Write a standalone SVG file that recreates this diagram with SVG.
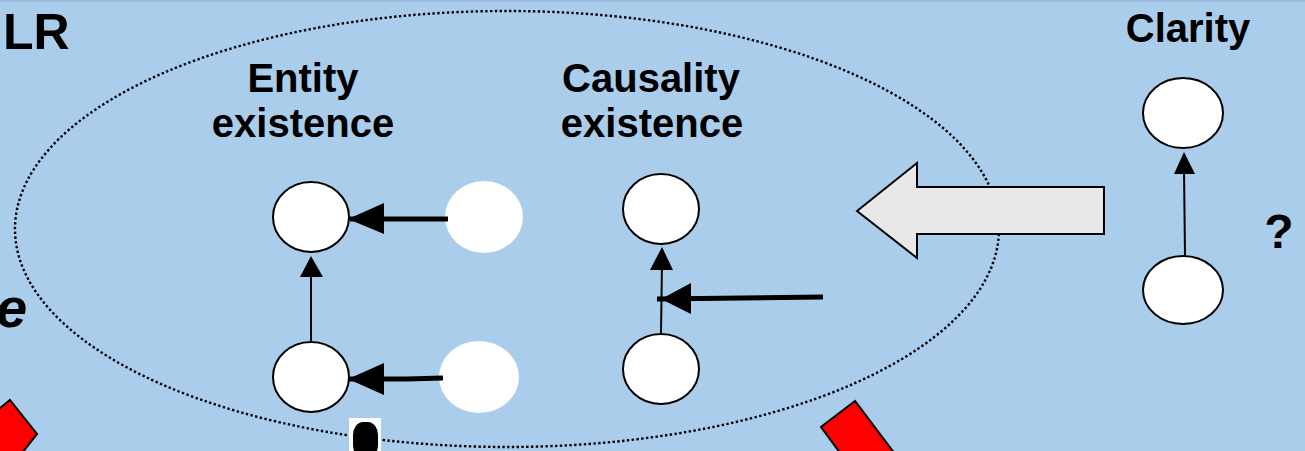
<svg xmlns="http://www.w3.org/2000/svg" width="1305" height="451" viewBox="0 0 1305 451">
<style>
.lbl{font-family:"Liberation Sans",Arial,sans-serif;font-weight:bold;fill:#000}
.node{fill:#fff;stroke:#000;stroke-width:2}
.ghost{fill:#fff;stroke:none}
.thin{stroke:#000;stroke-width:2;fill:none}
.thick{stroke:#000;stroke-width:5;fill:none}
.head{fill:#000;stroke:none}
.red{fill:#f00;stroke:#000;stroke-width:2}
</style>
<rect x="0" y="0" width="1305" height="451" fill="#abcdec"/>
<rect x="0" y="0" width="1305" height="2" fill="#9ebfdf"/>
<g id="frame">
<ellipse cx="507" cy="229" rx="492" ry="218" fill="none" stroke="#000" stroke-width="2.4" stroke-dasharray="2.4 2.4"/>
</g>
<g id="labels">
<text class="lbl" x="3" y="49" font-size="50">LR</text>
<text class="lbl" x="-4" y="327" font-size="56" font-style="italic">e</text>
<text class="lbl" x="303" y="92" font-size="40" text-anchor="middle">Entity</text>
<text class="lbl" x="303" y="137" font-size="40" text-anchor="middle">existence</text>
<text class="lbl" x="651" y="92" font-size="40" text-anchor="middle">Causality</text>
<text class="lbl" x="652" y="137" font-size="40" text-anchor="middle">existence</text>
<text class="lbl" x="1188" y="42" font-size="40" text-anchor="middle">Clarity</text>
<text class="lbl" x="1279" y="248" font-size="48" text-anchor="middle">?</text>
</g>
<g id="decor">
<polygon class="red" points="10,400 37,434 -10,494 -40,440"/>
<polygon class="red" points="855,401 821,427 860,480 895,454"/>
<rect x="349" y="418" width="32" height="40" fill="#fff"/>
<rect x="353" y="422" width="25" height="36" rx="10" ry="13" fill="#000"/>
</g>
<g id="entity-top">
<ellipse class="node" cx="311" cy="217" rx="38" ry="35"/>
</g>
<g id="entity-top-source">
<ellipse class="ghost" cx="484" cy="217" rx="39" ry="36"/>
</g>
<g id="entity-bottom">
<ellipse class="node" cx="311" cy="377" rx="38" ry="35"/>
</g>
<g id="entity-bottom-source">
<ellipse class="ghost" cx="479" cy="377" rx="40" ry="36"/>
</g>
<g id="causality-top">
<ellipse class="node" cx="661" cy="209" rx="38" ry="35"/>
</g>
<g id="causality-bottom">
<ellipse class="node" cx="661" cy="369" rx="38" ry="35"/>
</g>
<g id="clarity-top">
<ellipse class="node" cx="1183" cy="113" rx="40" ry="35"/>
</g>
<g id="clarity-bottom">
<ellipse class="node" cx="1183" cy="290" rx="40" ry="34"/>
</g>
<g id="block-arrow">
<polygon points="857,211 917,163 917,187 1104,187 1104,234 917,234 917,258" fill="#e8e8e8" stroke="#000" stroke-width="2"/>
</g>
<g id="connectors">
<line class="thick" x1="448" y1="219" x2="350" y2="219"/>
<polygon class="head" points="348,219 384,203 384,234"/>
<polyline class="thick" points="443,378 407,379 348,379"/>
<polygon class="head" points="348,379 384,363 384,395"/>
<line class="thin" x1="311" y1="342" x2="311" y2="270"/>
<polygon class="head" points="311,256 300,277 323,277"/>
<line class="thin" x1="661" y1="334" x2="662" y2="262"/>
<polygon class="head" points="662,247 650,270 673,270"/>
<line class="thick" x1="823" y1="297" x2="657" y2="299"/>
<polygon class="head" points="661,299 691,283 691,314"/>
<line class="thin" x1="1185" y1="256" x2="1184" y2="168"/>
<polygon class="head" points="1184,152 1174,174 1195,174"/>
</g>
</svg>
